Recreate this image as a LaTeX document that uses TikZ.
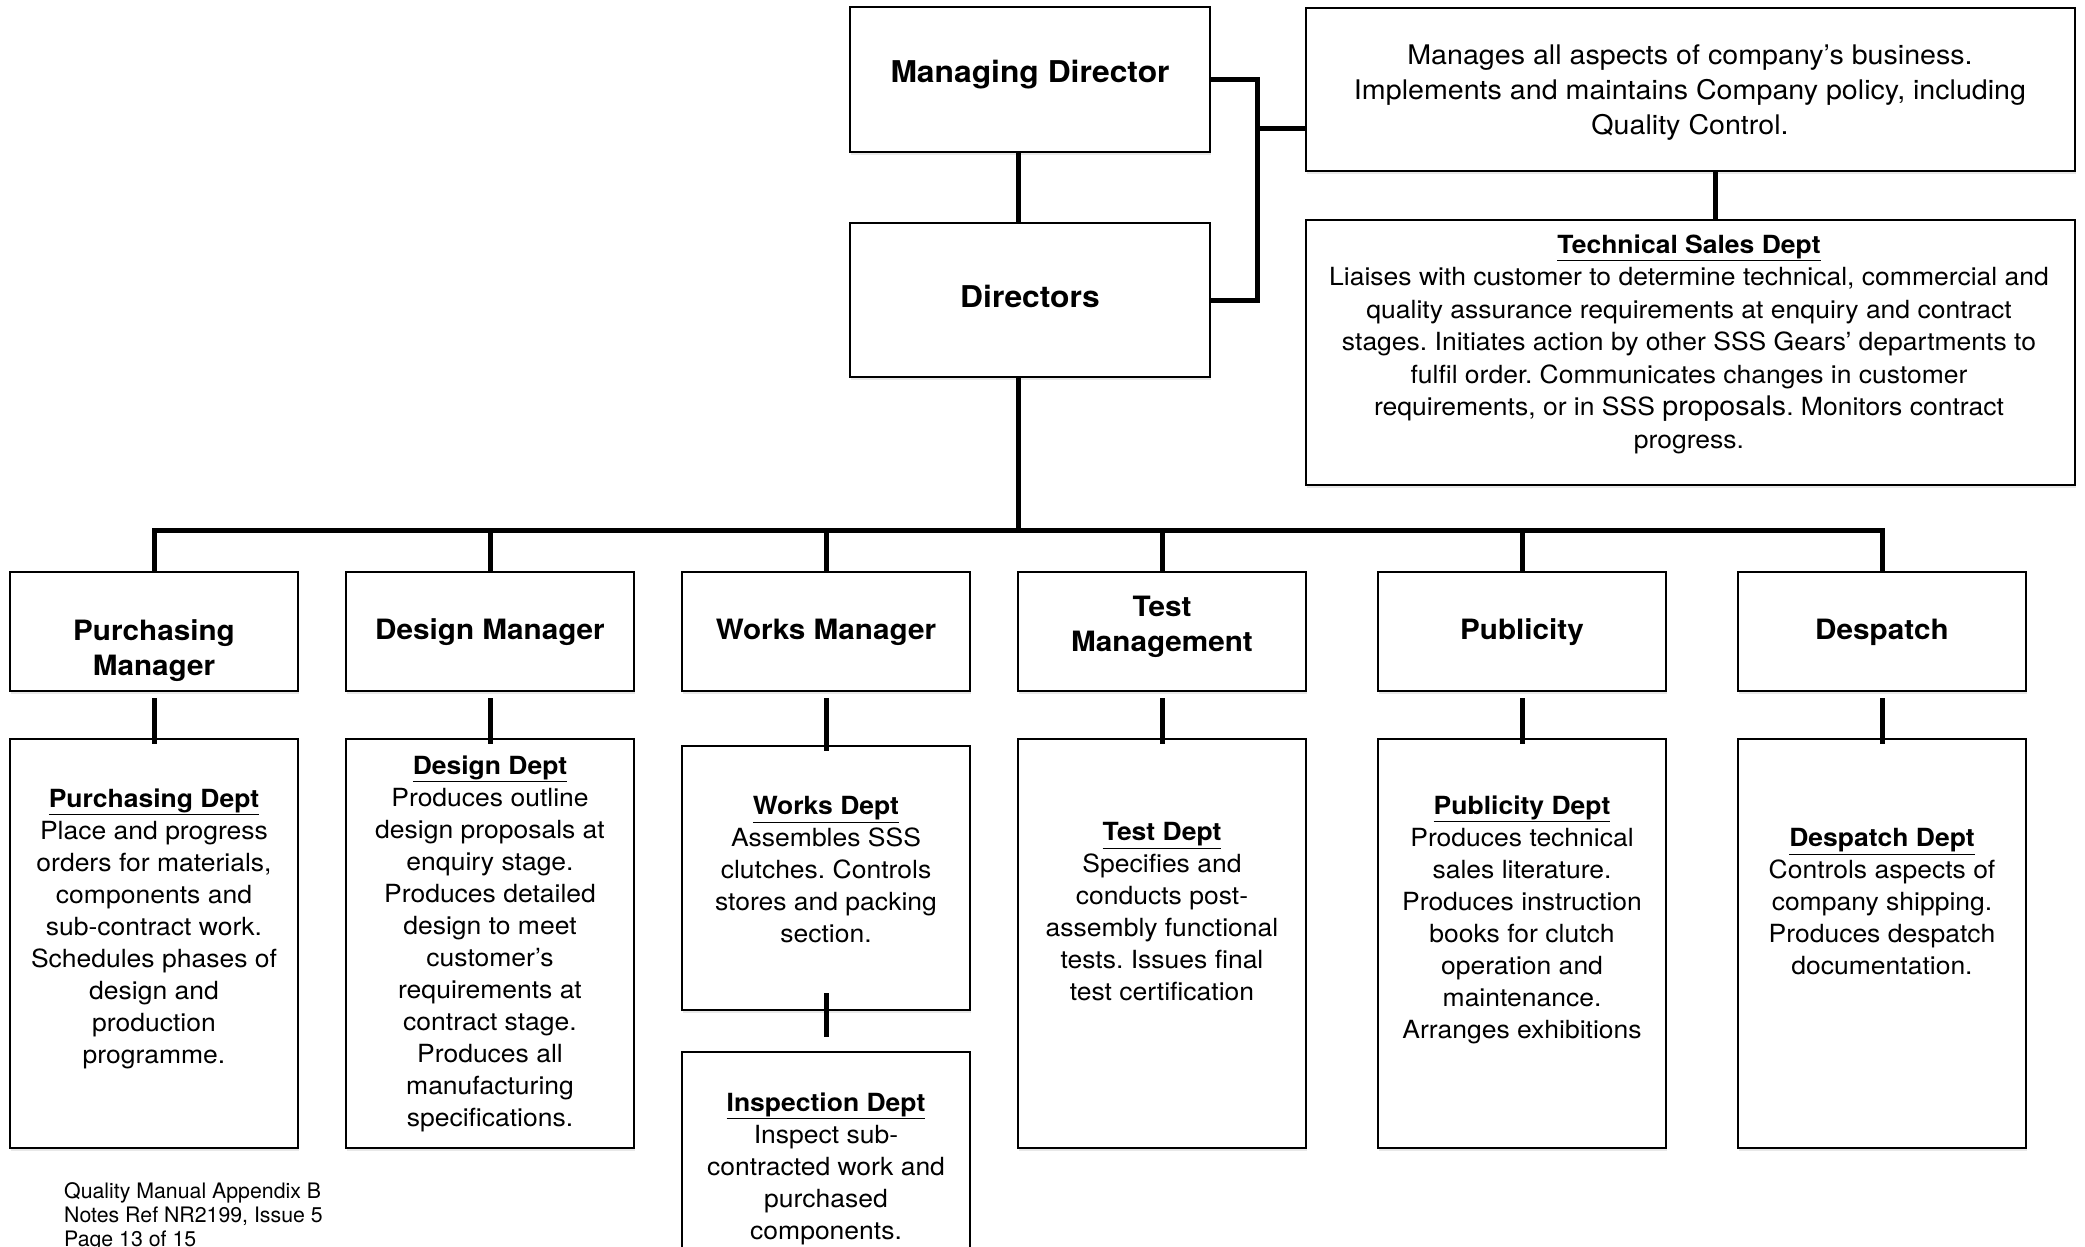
\documentclass[tikz,border=0pt]{standalone}
\usepackage{fontspec}
\setmainfont{TeX Gyre Heros}[FakeStretch=1.06]
\newfontfamily\footfont{TeX Gyre Heros}
\usetikzlibrary{shadows}
\frenchspacing
\tikzset{
  box/.style={draw, line width=2pt, fill=white, inner sep=0pt,
    drop shadow={shadow xshift=1pt, shadow yshift=-3pt, opacity=0.18}},
  conn/.style={line width=5pt, line join=miter},
  ttl/.style={font=\bfseries\fontsize{30}{36}\selectfont, align=center, inner sep=0pt},
  mgr/.style={font=\bfseries\fontsize{28}{35}\selectfont, align=center, inner sep=0pt},
  descr/.style={font=\fontsize{27}{35}\selectfont, align=center, inner sep=0pt},
  techtxt/.style={font=\fontsize{25}{32.5}\selectfont, align=center, inner sep=0pt},
  body/.style={font=\fontsize{25}{32}\selectfont, align=center, inner sep=0pt},
  foot/.style={font=\footfont\fontsize{21.3}{24}\selectfont, align=left, inner sep=0pt},
}
\newcommand{\hd}[1]{\underline{\textbf{#1}}}
\begin{document}
\begin{tikzpicture}[x=1pt,y=1pt]
\useasboundingbox (0,0) rectangle (2085,-1247);
\clip (0,0) rectangle (2085,-1247);
\fill[white] (0,0) rectangle (2085,-1247);

% top boxes
\node[box, minimum width=360pt, minimum height=145pt] (md) at (1030,-79.5) {};
\node[box, minimum width=360pt, minimum height=154pt] (dir) at (1030,-300) {};
\node[box, minimum width=769pt, minimum height=163pt] (desc) at (1690.5,-89.5) {};
\node[box, minimum width=769pt, minimum height=265pt] (tech) at (1690.5,-352.5) {};

% manager boxes
\foreach \n/\x in {pm/154, dm/490, wm/826, tm/1162, pubm/1522, dspm/1882}
  \node[box, minimum width=288pt, minimum height=119pt] (\n) at (\x,-631.5) {};

% department boxes
\foreach \n/\x in {pd/154, dd/490, td/1162, pubd/1522, dspd/1882}
  \node[box, minimum width=288pt, minimum height=409pt] (\n) at (\x,-943.5) {};
\node[box, minimum width=288pt, minimum height=264pt] (wd) at (826,-878) {};
\node[box, minimum width=288pt, minimum height=260pt] (ins) at (826,-1182) {};

% texts
\node[ttl] (mdt) at (1030,-74.5) {Managing Director};
\node[ttl] (dirt) at (1030,-296) {Directors};
\node[descr] (desct) at (1690,-93) {Manages all aspects of company’s business.\\Implements and maintains Company policy, including\\Quality Control.};
\node[techtxt] (techt) at (1689,-344) {\hd{Technical Sales Dept}\\Liaises with customer to determine technical, commercial and\\quality assurance requirements at enquiry and contract\\stages. Initiates action by other SSS Gears’ departments to\\fulfil order. Communicates changes in customer\\requirements, or in SSS {\fontsize{27}{32.5}\selectfont proposals}. Monitors contract\\progress.};

\node[mgr] (pmt) at (154,-651) {Purchasing\\Manager};
\node[mgr] (dmt) at (490,-632) {Design Manager};
\node[mgr] (wmt) at (826,-632) {Works Manager};
\node[mgr] (tmt) at (1162,-627) {Test\\Management};
\node[mgr] (pubmt) at (1522,-632) {Publicity};
\node[mgr] (dspmt) at (1882,-632) {Despatch};

\node[body] (pdt) at (154,-929) {\hd{Purchasing Dept}\\Place and progress\\orders for materials,\\components and\\sub-contract work.\\Schedules phases of\\design and\\production\\programme.};
\node[body] (ddt) at (490,-944) {\hd{Design Dept}\\Produces outline\\design proposals at\\enquiry stage.\\Produces detailed\\design to meet\\customer’s\\requirements at\\contract stage.\\Produces all\\manufacturing\\specifications.};
\node[body] (wdt) at (826,-870) {\hd{Works Dept}\\Assembles SSS\\clutches. Controls\\stores and packing\\section.};
\node[body] (inst) at (826,-1168.5) {\hd{Inspection Dept}\\Inspect sub-\\contracted work and\\purchased\\components.};
\node[body] (tdt) at (1162,-912) {\hd{Test Dept}\\Specifies and\\conducts post-\\assembly functional\\tests. Issues final\\test certification};
\node[body] (pubdt) at (1522,-919.5) {\hd{Publicity Dept}\\Produces technical\\sales literature.\\Produces instruction\\books for clutch\\operation and\\maintenance.\\Arranges exhibitions};
\node[body] (dspdt) at (1882,-902) {\hd{Despatch Dept}\\Controls aspects of\\company shipping.\\Produces despatch\\documentation.};

\node[foot, anchor=north west] (footer) at (64,-1182) {Quality Manual Appendix B\\Notes Ref NR2199, Issue 5\\Page 13 of 15};

% connectors
\coordinate (brk) at (1257,-128);
\coordinate (busR) at (1882,-530);
\draw[conn] (md.east) -- (md.east -| brk) -- (dir.east -| brk) -- (dir.east);
\draw[conn] (brk) -- (brk -| desc.west);
\draw[conn] ([xshift=25pt]desc.south) -- ([xshift=25pt]tech.north);
\draw[conn] ([xshift=-12pt]md.south) -- ([xshift=-12pt]dir.north);
\draw[conn] ([xshift=-12pt]dir.south) -- ([xshift=-12pt]dir.south |- busR);
\draw[conn] (pm.north) |- (busR) -- (dspm.north);
\foreach \n in {dm, wm, tm, pubm}
  \draw[conn] (\n.north) -- (\n.north |- busR);
\foreach \m/\d in {pm/pd, dm/dd, wm/wd, tm/td, pubm/pubd, dspm/dspd}
  \draw[conn] ([yshift=-6pt]\m.south) -- ([yshift=-6pt]\d.north);
\draw[conn] ([yshift=18pt]wd.south) -- ([yshift=14pt]ins.north);
\end{tikzpicture}
\end{document}
